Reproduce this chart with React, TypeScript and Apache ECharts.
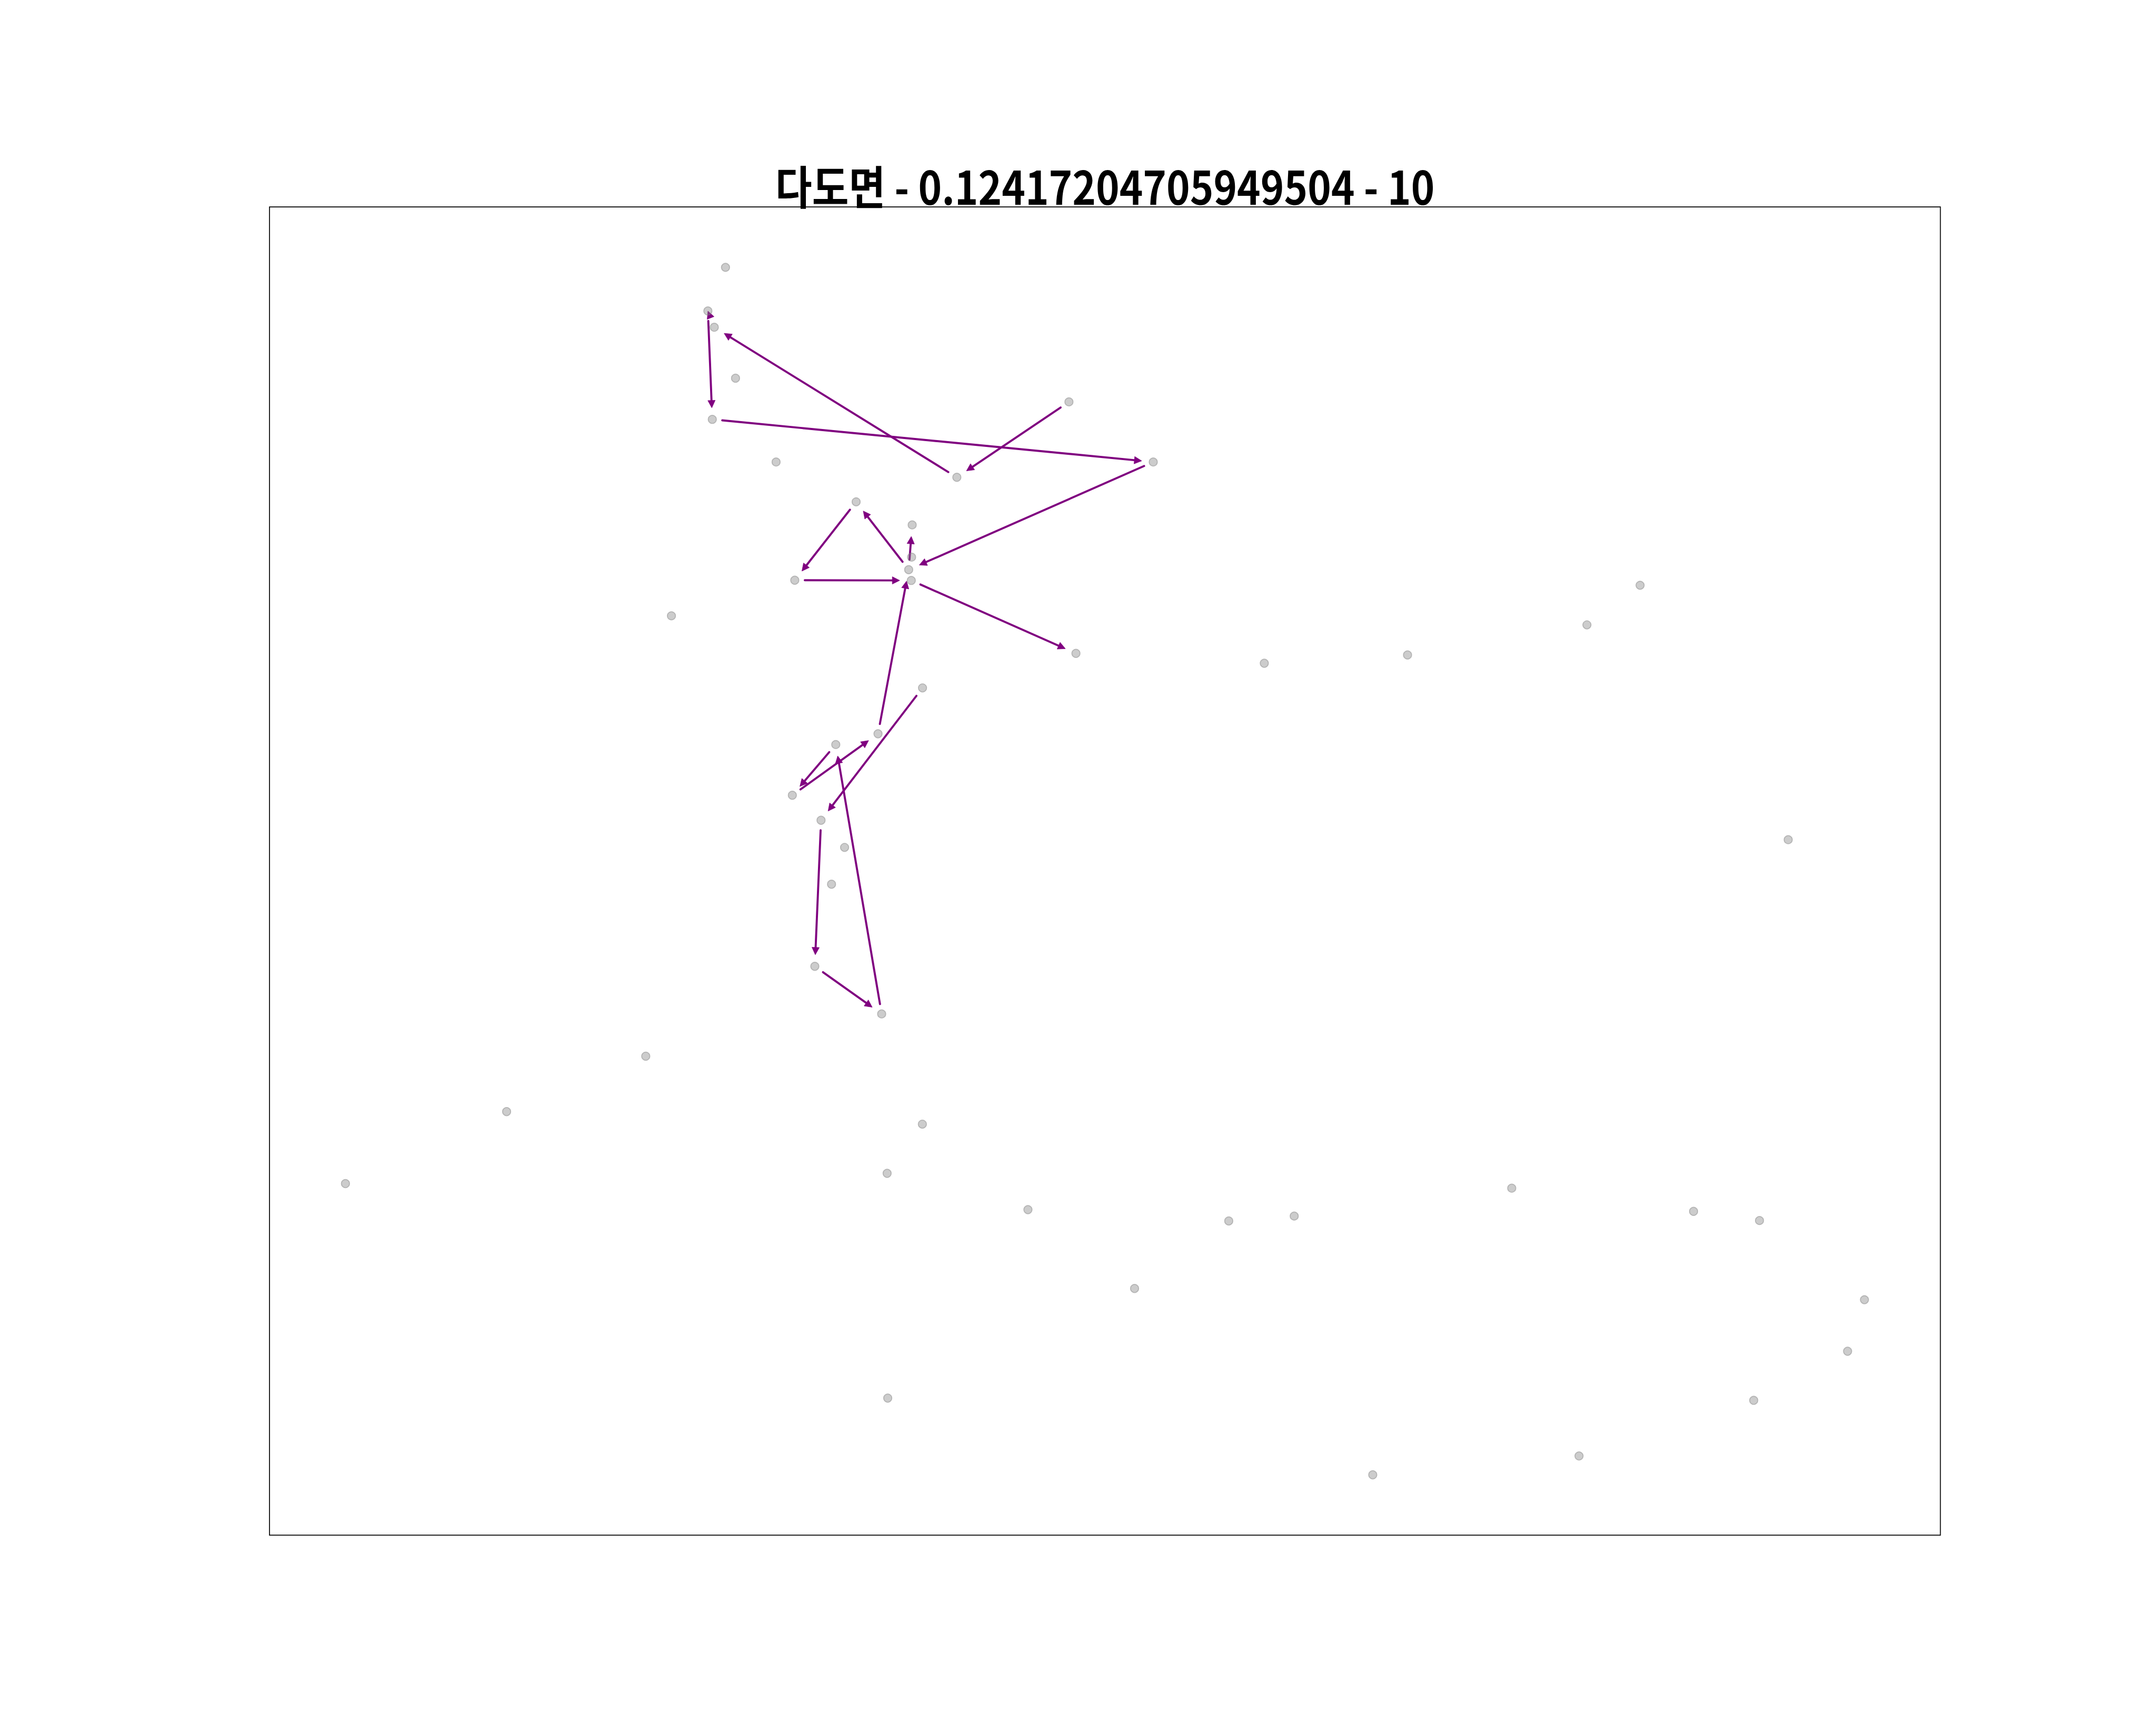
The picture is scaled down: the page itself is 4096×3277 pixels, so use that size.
import React, { useEffect, useRef } from "react";
import * as echarts from "echarts";

// ---- data ----
const TITLE = "다도면 - 0.12417204705949504 - 10";

const POINT_X = [
  25.02, 23.86, 24.28, 25.68, 24.15, 28.35, 40.25, 47.63, 53.18, 33.62,
  37.31, 37.27, 37.08, 37.25, 29.58, 48.09, 21.46, 37.99, 35.06, 32.28,
  29.42, 31.31, 32.86, 32.0, 30.9, 35.3, 19.77, 10.61, 0.0, 37.98,
  35.66, 44.93, 51.95, 35.7, 58.15, 62.46, 76.78, 88.75, 93.09, 100.0,
  98.89, 92.71, 81.21, 67.63, 60.49, 69.92, 81.73, 85.23, 94.98,
];
const POINT_Y = [
  100.0, 96.39, 95.04, 90.82, 87.41, 83.88, 82.61, 88.86, 83.88, 80.58,
  78.67, 76.0, 74.96, 74.07, 74.09, 68.03, 71.14, 65.17, 61.37, 60.48,
  56.28, 54.21, 51.96, 48.91, 42.11, 38.17, 34.67, 30.08, 24.12, 29.04,
  24.97, 21.96, 15.43, 6.35, 21.02, 21.43, 23.74, 21.82, 21.06, 14.5,
  10.23, 6.17, 1.56, 0.0, 67.21, 67.9, 70.39, 73.67, 52.6,
];

// routes through the points (indices into POINT_X / POINT_Y)
const ROUTE_A = [7, 6, 2, 1, 4, 8, 12, 9, 14, 13, 15];
const ROUTE_B = [17, 21, 24, 25, 19, 20, 18, 12, 10];
const ROUTES = [ROUTE_A, ROUTE_B];

const X_RANGE = [-5, 105];
const Y_RANGE = [-5, 105];

// ---- styling / layout ----
const W = 4096;
const H = 3277;
const GRID = { left: 512, top: 393.2, width: 3174.4, height: 2523.2 };
const ARROW_COLOR = "#800080";
const POINT_COLOR = "rgba(128,128,128,0.5)";
const POINT_EDGE = "rgba(128,128,128,0.6)";
const TITLE_SIZE = 84;
const TITLE_WIDTH = 1253;

export default function App() {
  const ref = useRef<HTMLDivElement>(null);

  useEffect(() => {
    if (!ref.current) return;
    const chart = echarts.init(ref.current, null, { renderer: "svg" });

    const points = POINT_X.map((x, i) => [x, POINT_Y[i]]);
    const edges: number[][] = [];
    ROUTES.forEach((r) => {
      for (let i = 0; i + 1 < r.length; i++) {
        const a = r[i];
        const b = r[i + 1];
        edges.push([POINT_X[a], POINT_Y[a], POINT_X[b], POINT_Y[b]]);
      }
    });

    // title width scaling (reference font is condensed)
    let scaleX = 1;
    try {
      const c = document.createElement("canvas");
      const ctx = c.getContext("2d");
      if (ctx) {
        ctx.font = `bold ${TITLE_SIZE}px "Noto Sans CJK KR"`;
        const w = ctx.measureText(TITLE).width;
        if (w > 0) scaleX = TITLE_WIDTH / w;
      }
    } catch (e) {}

    const sA = 19;
    const sB = 22;
    const headLen = 14;
    const hw = 7;

    const renderArrow = (params: any, api: any) => {
      const p1 = api.coord([api.value(0), api.value(1)]);
      const p2 = api.coord([api.value(2), api.value(3)]);
      const dx = p2[0] - p1[0];
      const dy = p2[1] - p1[1];
      const len = Math.sqrt(dx * dx + dy * dy) || 1;
      const ux = dx / len;
      const uy = dy / len;
      const px = -uy;
      const py = ux;
      const start = [p1[0] + ux * sA, p1[1] + uy * sA];
      let tip = [p2[0] - ux * sB, p2[1] - uy * sB];
      const shaft = len - sA - sB;
      const children: any[] = [];
      if (shaft < headLen) {
        tip = [start[0] + ux * headLen, start[1] + uy * headLen];
      }
      const base = [tip[0] - ux * headLen, tip[1] - uy * headLen];
      if (shaft >= headLen) {
        children.push({
          type: "line",
          shape: {
            x1: start[0],
            y1: start[1],
            x2: base[0] + ux * 2,
            y2: base[1] + uy * 2,
          },
          style: { stroke: ARROW_COLOR, lineWidth: 3.9, lineCap: "round" },
        });
      }
      children.push({
        type: "polygon",
        shape: {
          points: [
            tip,
            [base[0] + px * hw, base[1] + py * hw],
            [base[0] - px * hw, base[1] - py * hw],
          ],
        },
        style: { fill: ARROW_COLOR, stroke: ARROW_COLOR, lineWidth: 0.8, lineJoin: "miter" },
      });
      return { type: "group", children };
    };

    chart.setOption({
      animation: false,
      backgroundColor: "#ffffff",
      grid: {
        left: GRID.left,
        top: GRID.top,
        width: GRID.width,
        height: GRID.height,
        show: true,
        borderColor: "#000000",
        borderWidth: 1.7,
        backgroundColor: "transparent",
      },
      xAxis: {
        type: "value",
        min: X_RANGE[0],
        max: X_RANGE[1],
        axisLine: { show: false },
        axisTick: { show: false },
        axisLabel: { show: false },
        splitLine: { show: false },
      },
      yAxis: {
        type: "value",
        min: Y_RANGE[0],
        max: Y_RANGE[1],
        axisLine: { show: false },
        axisTick: { show: false },
        axisLabel: { show: false },
        splitLine: { show: false },
      },
      graphic: [
        {
          type: "text",
          x: GRID.left + GRID.width / 2,
          y: 350.7,
          scaleX,
          scaleY: 1.04,
          style: {
            text: TITLE,
            fill: "#000000",
            fontFamily: '"Noto Sans CJK KR", sans-serif',
            fontWeight: "bold",
            fontSize: TITLE_SIZE,
            textAlign: "center",
            textVerticalAlign: "middle",
          },
        },
      ],
      series: [
        {
          type: "custom",
          coordinateSystem: "cartesian2d",
          renderItem: renderArrow,
          encode: { x: [0, 2], y: [1, 3] },
          data: edges,
          z: 2,
          silent: true,
        },
        {
          type: "scatter",
          data: points,
          symbol: "circle",
          symbolSize: 15.5,
          itemStyle: {
            color: POINT_COLOR,
            borderColor: POINT_EDGE,
            borderWidth: 1.7,
          },
          z: 3,
          silent: true,
        },
      ],
    });

    return () => {
      chart.dispose();
    };
  }, []);

  return (
    <div
      ref={ref}
      style={{ position: "fixed", left: 0, top: 0, width: W, height: H }}
    />
  );
}
